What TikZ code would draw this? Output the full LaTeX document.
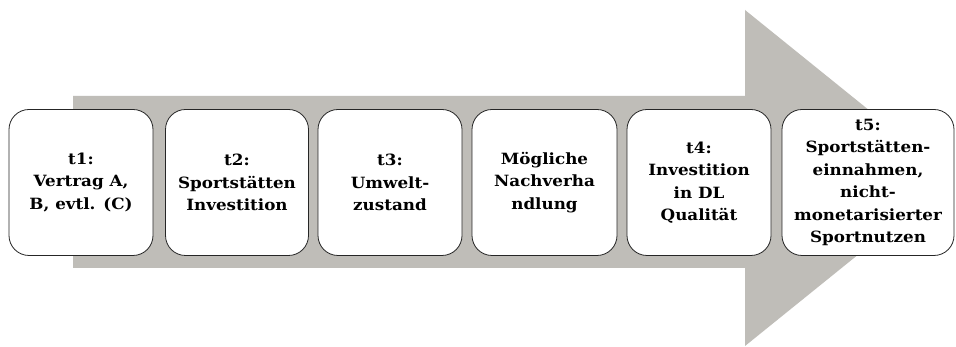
\documentclass[tikz,border=0pt]{standalone}
\usepackage{fontspec}
\setmainfont{DejaVu Serif}[BoldFeatures={FakeStretch=1.08}]
\begin{document}
\begin{tikzpicture}[x=1pt,y=1pt,
  stepbox/.style={draw=black!85, line width=0.8pt, fill=white, rounded corners=20pt,
    minimum height=146pt, align=center, inner sep=1pt,
    font=\fontsize{15.5}{22.5}\selectfont\bfseries}]
\fill[white] (0,0) rectangle (956,347);
\useasboundingbox (0,0) rectangle (956,347);
\fill[fill={rgb,255:red,191;green,189;blue,184}]
  (73,251) -- (745,251) -- (745,337) -- (953,169) -- (745,1) -- (745,79) -- (73,79) -- cycle;
\node[stepbox, minimum width=144pt] (b1) at (81,164.5) {t1:\\Vertrag A,\\B, evtl. (C)};
\node[stepbox, minimum width=143pt] (b2) at (237,164.5) {t2:\\Sportstätten\\Investition};
\node[stepbox, minimum width=144pt] (b3) at (390,164.5) {t3:\\Umwelt-\\zustand};
\node[stepbox, minimum width=145pt] (b4) at (544.5,164.5) {Mögliche\\Nachverha\\ndlung};
\node[stepbox, minimum width=144pt] (b5) at (699,164.5) {t4:\\Investition\\in DL\\Qualität};
\node[stepbox, minimum width=172pt] (b6) at (868,164.5) {t5:\\Sportstätten-\\einnahmen,\\nicht-\\monetarisierter\\Sportnutzen};
\end{tikzpicture}
\end{document}
